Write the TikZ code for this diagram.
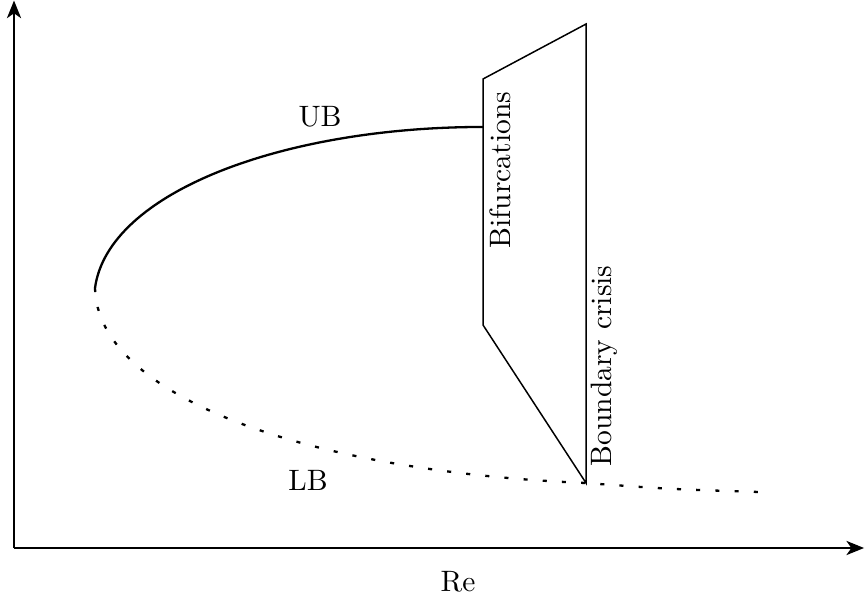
\documentclass[tikz,border=0pt]{standalone}
\usepackage{tikz}
\usetikzlibrary{calc,arrows.meta,positioning}

\begin{document}
\begin{tikzpicture}[x=1cm,y=1cm,
  axisline/.style={line width=0.9pt,-{Stealth[length=6.5pt,width=5.2pt,inset=1.8pt]}},
  upperbranch/.style={line width=0.85pt},
  lowerbranch/.style={line width=0.85pt,dash pattern=on 1.5pt off 5.6pt},
  regionbox/.style={line width=0.55pt,line join=miter},
  tag/.style={font=\fontsize{10.9}{13}\selectfont,inner sep=1pt}]
\path[use as bounding box] (-0.182,-0.714) rectangle (11.052,7.117);

% axes
\coordinate (orig) at (0,0);
\coordinate (xend) at (11.04,0);
\coordinate (yend) at (0,7.11);
\draw[axisline] (orig) -- (xend);
\draw[axisline] (orig) -- (yend);
\node[tag] (re) at (5.766,-0.442) {Re};

% branches
\coordinate (vertex) at (1.052,3.377);
\coordinate (ubend) at (6.091,5.468);
\coordinate (lbend) at (9.688,0.727);
\coordinate (crisis) at (7.429,0.844);
\draw[upperbranch] (vertex) .. controls (1.22,4.62) and (3.5,5.468) .. (ubend);
\draw[lowerbranch] (vertex) .. controls (1.08,2.0) and (3.7,1.0) .. (crisis)
  .. controls (8.5,0.765) .. (lbend);
\node[tag] (ub) at (3.974,5.597) {UB};
\node[tag] (lb) at (3.818,0.883) {LB};

% bifurcation region
\coordinate (tl) at (6.091,6.091);
\coordinate (tr) at (7.429,6.805);
\coordinate (bl) at (6.091,2.896);
\draw[regionbox] (bl) -- (tl) -- (tr) -- (crisis) -- cycle;
\node[tag,rotate=90] (bif) at (6.312,4.909) {Bifurcations};
\node[tag,rotate=90] (bc) at (7.662,2.364) {Boundary crisis};
\end{tikzpicture}
\end{document}
